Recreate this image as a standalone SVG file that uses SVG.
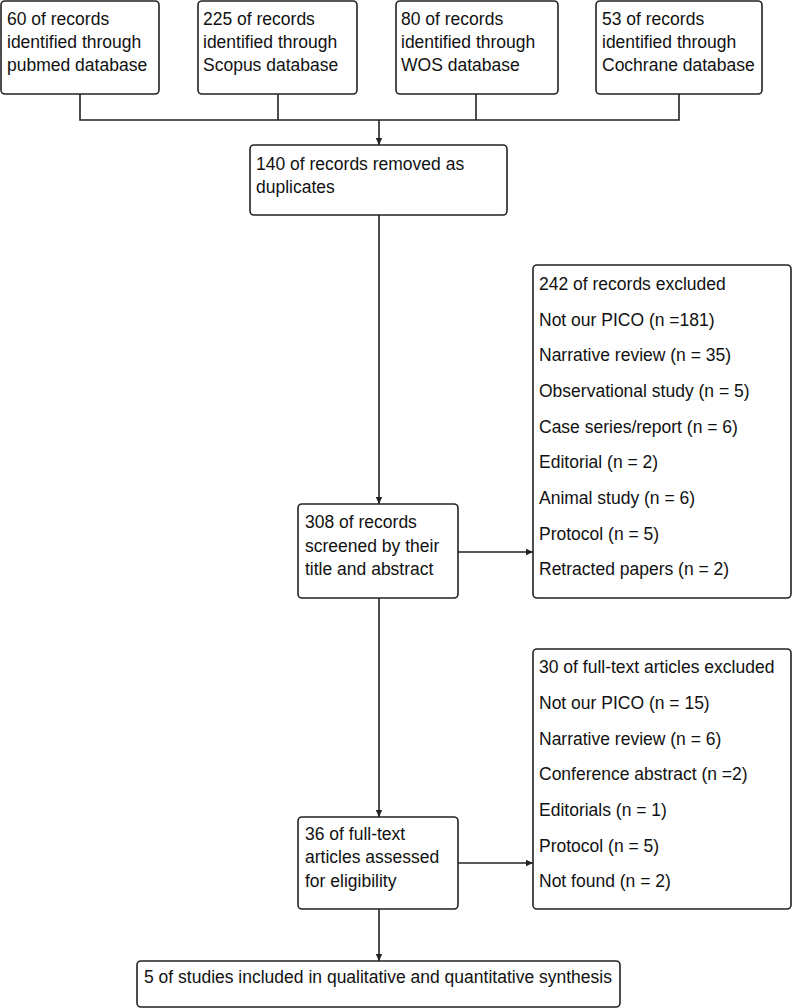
<svg xmlns="http://www.w3.org/2000/svg" width="794" height="1008" viewBox="0 0 794 1008">
<style>
.box{fill:#fff;stroke:#222;stroke-width:1.6}
.t{font-family:"Liberation Sans",Arial,sans-serif;font-size:17.5px;fill:#111}
.c{fill:none;stroke:#222;stroke-width:1.6}
</style>
<defs>
<marker id="ah" markerWidth="8" markerHeight="8" refX="7" refY="4" orient="auto" markerUnits="userSpaceOnUse">
<path d="M0,0.8 L7,4 L0,7.2 Z" fill="#222"/>
</marker>
</defs>
<rect width="794" height="1008" fill="#fff"/>
<g id="connectors">
<path class="c" d="M80,94 V120 H679 V94"/>
<path class="c" d="M278,94 V120"/>
<path class="c" d="M476,94 V120"/>
<path class="c" d="M379,120 V145" marker-end="url(#ah)"/>
<path class="c" d="M379,215 V504" marker-end="url(#ah)"/>
<path class="c" d="M458,552 H533" marker-end="url(#ah)"/>
<path class="c" d="M379,598 V817" marker-end="url(#ah)"/>
<path class="c" d="M458,863 H533" marker-end="url(#ah)"/>
<path class="c" d="M379,909 V961" marker-end="url(#ah)"/>
</g>
<g id="pubmed">
<rect class="box" x="1" y="1" width="158" height="93" rx="4"/>
<text class="t" x="7" y="25">60 of records</text>
<text class="t" x="7" y="48">identified through</text>
<text class="t" x="7" y="71">pubmed database</text>
</g>
<g id="scopus">
<rect class="box" x="198" y="1" width="159" height="93" rx="4"/>
<text class="t" x="203" y="25">225 of records</text>
<text class="t" x="203" y="48">identified through</text>
<text class="t" x="203" y="71">Scopus database</text>
</g>
<g id="wos">
<rect class="box" x="396" y="1" width="162" height="93" rx="4"/>
<text class="t" x="401" y="25">80 of records</text>
<text class="t" x="401" y="48">identified through</text>
<text class="t" x="401" y="71">WOS database</text>
</g>
<g id="cochrane">
<rect class="box" x="596" y="1" width="166" height="93" rx="4"/>
<text class="t" x="602" y="25">53 of records</text>
<text class="t" x="602" y="48">identified through</text>
<text class="t" x="602" y="71">Cochrane database</text>
</g>
<g id="duplicates">
<rect class="box" x="250" y="145" width="257" height="70" rx="4"/>
<text class="t" x="256" y="170">140 of records removed as</text>
<text class="t" x="256" y="193">duplicates</text>
</g>
<g id="screened">
<rect class="box" x="298" y="504" width="160" height="94" rx="4"/>
<text class="t" x="305" y="528">308 of records</text>
<text class="t" x="305" y="552">screened by their</text>
<text class="t" x="305" y="575">title and abstract</text>
</g>
<g id="excluded1">
<rect class="box" x="533" y="265" width="258" height="333" rx="4"/>
<text class="t" x="539" y="290">242 of records excluded</text>
<text class="t" x="539" y="325.7">Not our PICO (n =181)</text>
<text class="t" x="539" y="361.3">Narrative review (n = 35)</text>
<text class="t" x="539" y="397">Observational study (n = 5)</text>
<text class="t" x="539" y="432.7">Case series/report (n = 6)</text>
<text class="t" x="539" y="468.3">Editorial (n = 2)</text>
<text class="t" x="539" y="504">Animal study (n = 6)</text>
<text class="t" x="539" y="539.7">Protocol (n = 5)</text>
<text class="t" x="539" y="575.3">Retracted papers (n = 2)</text>
</g>
<g id="fulltext">
<rect class="box" x="298" y="817" width="160" height="92" rx="4"/>
<text class="t" x="305" y="840">36 of full-text</text>
<text class="t" x="305" y="863">articles assessed</text>
<text class="t" x="305" y="887">for eligibility</text>
</g>
<g id="excluded2">
<rect class="box" x="533" y="649" width="258" height="260" rx="4"/>
<text class="t" x="539" y="673">30 of full-text articles excluded</text>
<text class="t" x="539" y="709">Not our PICO (n = 15)</text>
<text class="t" x="539" y="744.7">Narrative review (n = 6)</text>
<text class="t" x="539" y="780.3">Conference abstract (n =2)</text>
<text class="t" x="539" y="816">Editorials (n = 1)</text>
<text class="t" x="539" y="851.7">Protocol (n = 5)</text>
<text class="t" x="539" y="887.3">Not found (n = 2)</text>
</g>
<g id="included">
<rect class="box" x="137" y="961" width="483" height="46" rx="4"/>
<text class="t" x="144" y="983">5 of studies included in qualitative and quantitative synthesis</text>
</g>
</svg>
